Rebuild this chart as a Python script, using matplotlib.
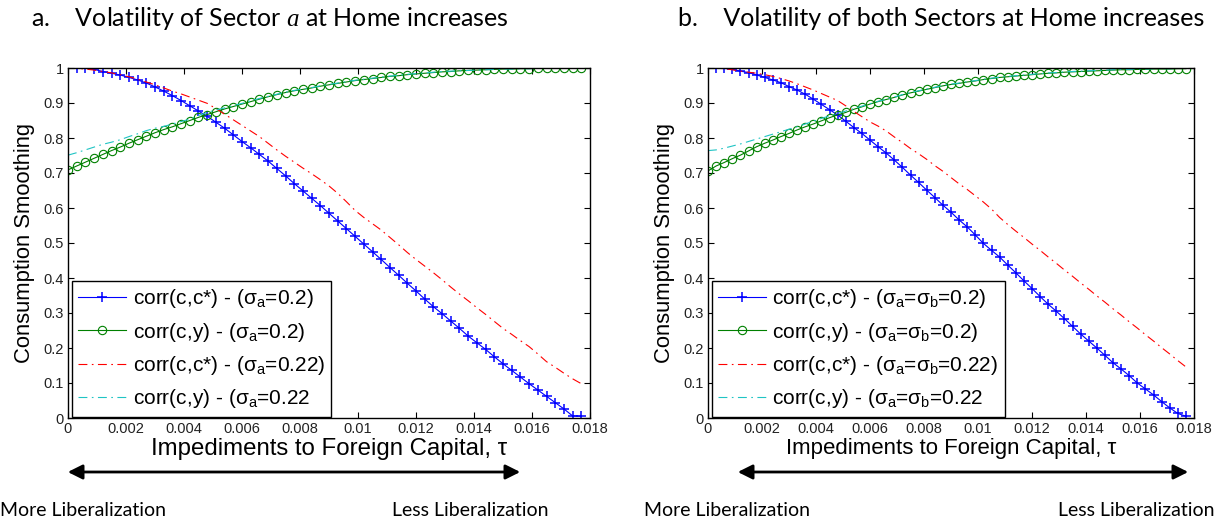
import numpy as np
import matplotlib
matplotlib.use('Agg')
import matplotlib.pyplot as plt
from matplotlib.patches import FancyArrowPatch
from matplotlib.ticker import FuncFormatter

plt.rcParams['font.family'] = ['Liberation Sans', 'DejaVu Sans']
plt.rcParams['mathtext.fontset'] = 'custom'
plt.rcParams['mathtext.rm'] = 'Liberation Sans'
plt.rcParams['mathtext.it'] = 'Liberation Serif:italic'

# impediment tau at each marker
tau = [0.0, 0.0003, 0.0006, 0.0009, 0.0012, 0.0015, 0.0018, 0.0021, 0.0024, 0.0027,
       0.003, 0.0033, 0.0036, 0.0039, 0.0042, 0.0045, 0.0048, 0.0051, 0.0054, 0.0057,
       0.006, 0.0063, 0.0066, 0.0069, 0.0072, 0.0075, 0.0078, 0.0081, 0.0084, 0.0087,
       0.009, 0.0093, 0.0096, 0.0099, 0.0102, 0.0105, 0.0108, 0.0111, 0.0114, 0.0117,
       0.012, 0.0123, 0.0126, 0.0129, 0.0132, 0.0135, 0.0138, 0.0141, 0.0144, 0.0147,
       0.015, 0.0153, 0.0156, 0.0159, 0.0162, 0.0165, 0.0168, 0.0171, 0.0174, 0.0177]

# panel a: only sector a volatility up
cc_a_02 = [1.000, 1.000, 0.999, 0.996, 0.990, 0.985, 0.980, 0.973, 0.966, 0.957,
           0.946, 0.934, 0.921, 0.907, 0.892, 0.877, 0.862, 0.845, 0.828, 0.809,
           0.790, 0.772, 0.753, 0.734, 0.713, 0.692, 0.670, 0.649, 0.628, 0.607,
           0.585, 0.563, 0.541, 0.519, 0.497, 0.475, 0.453, 0.430, 0.408, 0.385,
           0.363, 0.340, 0.318, 0.298, 0.277, 0.256, 0.234, 0.215, 0.196, 0.175,
           0.155, 0.136, 0.117, 0.098, 0.080, 0.062, 0.044, 0.026, 0.006, 0.005]
cy_a_02 = [0.709, 0.720, 0.731, 0.742, 0.753, 0.764, 0.774, 0.785, 0.795, 0.805,
           0.815, 0.824, 0.832, 0.841, 0.850, 0.859, 0.867, 0.875, 0.883, 0.890,
           0.897, 0.904, 0.911, 0.918, 0.924, 0.930, 0.935, 0.939, 0.943, 0.948,
           0.952, 0.956, 0.960, 0.964, 0.967, 0.970, 0.973, 0.976, 0.978, 0.981,
           0.983, 0.985, 0.987, 0.989, 0.990, 0.992, 0.993, 0.994, 0.995, 0.996,
           0.997, 0.997, 0.998, 0.998, 0.999, 0.999, 0.999, 1.000, 1.000, 1.000]
cc_a_022 = [1.000, 0.999, 0.997, 0.994, 0.990, 0.986, 0.981, 0.975, 0.968, 0.960,
            0.952, 0.943, 0.934, 0.926, 0.917, 0.908, 0.899, 0.884, 0.868, 0.852,
            0.836, 0.820, 0.804, 0.785, 0.766, 0.748, 0.731, 0.714, 0.698, 0.681,
            0.663, 0.642, 0.618, 0.593, 0.573, 0.555, 0.537, 0.516, 0.495, 0.473,
            0.453, 0.434, 0.415, 0.395, 0.374, 0.354, 0.335, 0.315, 0.296, 0.276,
            0.256, 0.239, 0.221, 0.204, 0.183, 0.161, 0.145, 0.128, 0.112, 0.098]
cy_a_022 = [0.751, 0.758, 0.766, 0.774, 0.782, 0.788, 0.795, 0.804, 0.812, 0.821,
            0.828, 0.833, 0.840, 0.847, 0.854, 0.864, 0.873, 0.880, 0.886, 0.892,
            0.899, 0.906, 0.913, 0.919, 0.925, 0.931, 0.936, 0.940, 0.944, 0.949,
            0.953, 0.957, 0.961, 0.965, 0.968, 0.971, 0.974, 0.977, 0.979, 0.982,
            0.984, 0.986, 0.988, 0.990, 0.991, 0.992, 0.993, 0.994, 0.995, 0.996,
            0.997, 0.997, 0.998, 0.998, 0.999, 0.999, 0.999, 1.000, 1.000, 1.000]

# panel b: both sectors volatility up
cc_b_02 = [1.000, 1.000, 0.999, 0.996, 0.991, 0.987, 0.980, 0.973, 0.966, 0.958,
           0.947, 0.937, 0.925, 0.911, 0.896, 0.881, 0.866, 0.848, 0.830, 0.813,
           0.794, 0.775, 0.757, 0.737, 0.716, 0.694, 0.673, 0.651, 0.630, 0.608,
           0.588, 0.566, 0.546, 0.523, 0.499, 0.479, 0.460, 0.437, 0.415, 0.392,
           0.370, 0.347, 0.325, 0.305, 0.284, 0.262, 0.240, 0.220, 0.200, 0.179,
           0.158, 0.140, 0.121, 0.100, 0.083, 0.066, 0.047, 0.029, 0.013, 0.005]
cy_b_02 = [0.706, 0.720, 0.730, 0.741, 0.751, 0.763, 0.775, 0.785, 0.794, 0.804,
           0.813, 0.823, 0.832, 0.840, 0.849, 0.858, 0.866, 0.873, 0.882, 0.889,
           0.897, 0.904, 0.910, 0.916, 0.923, 0.929, 0.934, 0.939, 0.944, 0.949,
           0.953, 0.956, 0.960, 0.963, 0.967, 0.970, 0.973, 0.975, 0.977, 0.979,
           0.981, 0.983, 0.985, 0.986, 0.988, 0.989, 0.990, 0.991, 0.992, 0.993,
           0.994, 0.995, 0.995, 0.996, 0.996, 0.997, 0.997, 0.997, 0.998, 0.998]
cc_b_022 = [1.000, 1.000, 0.998, 0.995, 0.991, 0.988, 0.985, 0.981, 0.976, 0.970,
            0.963, 0.955, 0.946, 0.937, 0.927, 0.917, 0.907, 0.892, 0.876, 0.861,
            0.846, 0.834, 0.820, 0.803, 0.787, 0.770, 0.755, 0.739, 0.721, 0.705,
            0.687, 0.669, 0.653, 0.635, 0.617, 0.597, 0.573, 0.553, 0.534, 0.516,
            0.497, 0.479, 0.460, 0.442, 0.423, 0.405, 0.386, 0.368, 0.349, 0.331,
            0.312, 0.294, 0.275, 0.257, 0.238, 0.220, 0.201, 0.183, 0.164, 0.146]
cy_b_022 = [0.764, 0.766, 0.771, 0.777, 0.783, 0.790, 0.797, 0.804, 0.811, 0.818,
            0.825, 0.832, 0.840, 0.848, 0.856, 0.863, 0.870, 0.877, 0.884, 0.891,
            0.898, 0.905, 0.911, 0.917, 0.924, 0.930, 0.935, 0.940, 0.945, 0.950,
            0.954, 0.957, 0.961, 0.964, 0.968, 0.971, 0.974, 0.976, 0.978, 0.980,
            0.982, 0.984, 0.986, 0.987, 0.989, 0.990, 0.991, 0.992, 0.993, 0.994,
            0.995, 0.996, 0.996, 0.997, 0.997, 0.998, 0.998, 0.998, 0.999, 0.999]

labels_a = ['corr(c,c*) - (σ$_\\mathrm{a}$=0.2)',
            'corr(c,y) - (σ$_\\mathrm{a}$=0.2)',
            'corr(c,c*) - (σ$_\\mathrm{a}$=0.22)',
            'corr(c,y) - (σ$_\\mathrm{a}$=0.22']
labels_b = ['corr(c,c*) - (σ$_\\mathrm{a}$=σ$_\\mathrm{b}$=0.2)',
            'corr(c,y) - (σ$_\\mathrm{a}$=σ$_\\mathrm{b}$=0.2)',
            'corr(c,c*) - (σ$_\\mathrm{a}$=σ$_\\mathrm{b}$=0.22)',
            'corr(c,y) - (σ$_\\mathrm{a}$=σ$_\\mathrm{b}$=0.22']
titles = ['a.    Volatility of Sector $a$ at Home increases',
          'b.    Volatility of both Sectors at Home increases']

W, H = 1226, 523
fig = plt.figure(figsize=(W / 100, H / 100), dpi=100)


def panel(rect, cc02, cy02, cc022, cy022, labels):
    ax = fig.add_axes(rect)
    ax.plot(tau, cc02, color='#0000ff', lw=0.8, marker='+', ms=7.5, mew=1.1, label=labels[0])
    ax.plot(tau, cy02, color='#008000', lw=0.8, marker='o', ms=6, mfc='none', mew=0.8, label=labels[1])
    ax.plot(tau, cc022, color='#ff0000', lw=0.8, linestyle=(0, (8, 4, 1.5, 4)), label=labels[2])
    ax.plot(tau, cy022, color='#1fc4c4', lw=0.8, linestyle=(0, (8, 4, 1.5, 4)), label=labels[3])
    ax.set_xlim(0, 0.018)
    ax.set_ylim(0, 1)
    ax.set_xticks(np.arange(0, 0.0181, 0.002))
    ax.set_yticks(np.arange(0, 1.01, 0.1))
    ax.xaxis.set_major_formatter(FuncFormatter(lambda v, p: '%g' % round(v, 4)))
    ax.yaxis.set_major_formatter(FuncFormatter(lambda v, p: '%g' % round(v, 2)))
    ax.tick_params(direction='in', top=True, right=True, length=4, labelsize=10.5,
                   labelcolor='#222222', pad=3)
    for s in ax.spines.values():
        s.set_linewidth(1.0)
    ax.set_xlabel('Impediments to Foreign Capital, τ', fontsize=17, labelpad=1)
    ax.set_ylabel('Consumption Smoothing', fontsize=15.8, labelpad=6)
    leg = ax.legend(loc='lower left', bbox_to_anchor=(0.008, 0.004), borderaxespad=0,
                    fontsize=15, handlelength=2.3, handletextpad=0.3, labelspacing=0.5,
                    fancybox=False, framealpha=1, edgecolor='black', borderpad=0.3)
    leg.get_frame().set_linewidth(1.0)
    return ax


ax_a = panel([68 / W, 105 / H, 522 / W, 350 / H], cc_a_02, cy_a_02, cc_a_022, cy_a_022, labels_a)
ax_b = panel([708 / W, 105 / H, 486 / W, 350 / H], cc_b_02, cy_b_02, cc_b_022, cy_b_022, labels_b)

t_a = fig.text(31 / W, 1 - 19 / H, titles[0], fontsize=17, family=['Lato', 'DejaVu Sans'], va='center')
t_b = fig.text(678 / W, 1 - 19 / H, titles[1], fontsize=17, family=['Lato', 'DejaVu Sans'], va='center')

for x0, x1 in [(65, 523), (735, 1191)]:
    arr = FancyArrowPatch((x0 / W, 1 - 472 / H), (x1 / W, 1 - 472 / H), transform=fig.transFigure,
                          arrowstyle='<|-|>', mutation_scale=22, lw=2, color='black')
    fig.patches.append(arr)

bottom = []
for x, s in [(0, 'More Liberalization'), (392, 'Less Liberalization'),
             (644, 'More Liberalization'), (1058, 'Less Liberalization')]:
    bottom.append(fig.text(x / W, 1 - 510 / H, s, fontsize=13.8, family=['Lato', 'DejaVu Sans'],
                           va='center'))

# scale text sizes so widths match the picture (pixels)
fig.canvas.draw()
rend = fig.canvas.get_renderer()


def fit(t, target):
    w = t.get_window_extent(rend).width
    t.set_fontsize(t.get_fontsize() * target / w)


fit(t_a, 478)
t_b.set_fontsize(t_a.get_fontsize())
fit(bottom[1], 156)
for t in bottom:
    t.set_fontsize(bottom[1].get_fontsize())
fit(ax_a.xaxis.label, 383 * 0.93)
fit(ax_b.xaxis.label, 356 * 0.93)

fig.savefig('out.png', dpi=100)
